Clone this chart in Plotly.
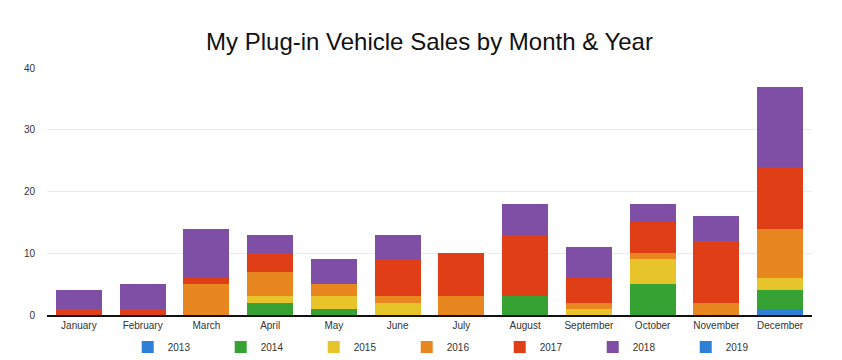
import plotly.graph_objects as go

months = ["January", "February", "March", "April", "May", "June", "July",
          "August", "September", "October", "November", "December"]
years = ["2013", "2014", "2015", "2016", "2017", "2018", "2019"]

sales_2013 = [0, 0, 0, 0, 0, 0, 0, 0, 0, 0, 0, 1]
sales_2014 = [0, 0, 0, 2, 1, 0, 0, 3, 0, 5, 0, 3]
sales_2015 = [0, 0, 0, 1, 2, 2, 0, 0, 1, 4, 0, 2]
sales_2016 = [0, 0, 5, 4, 2, 1, 3, 0, 1, 1, 2, 8]
sales_2017 = [1, 1, 1, 3, 0, 6, 7, 10, 4, 5, 10, 10]
sales_2018 = [3, 4, 8, 3, 4, 4, 0, 5, 5, 3, 4, 13]
sales_2019 = [0, 0, 0, 0, 0, 0, 0, 0, 0, 0, 0, 0]

series = [sales_2013, sales_2014, sales_2015, sales_2016, sales_2017, sales_2018, sales_2019]
colors = ["#2e7fd6", "#36a234", "#e6c42a", "#e8861f", "#e03e16", "#7f4fa6", "#2e7fd6"]

W, H = 834, 352

fig = go.Figure()
for year, vals, col in zip(years, series, colors):
    fig.add_trace(go.Bar(x=months, y=vals, name=year, marker=dict(color=col, line=dict(width=0))))

fig.update_layout(
    barmode="stack",
    bargap=0.28,
    width=W, height=H,
    margin=dict(l=39, r=30, t=60, b=45, autoexpand=False),
    paper_bgcolor="white", plot_bgcolor="white",
    font=dict(family="Liberation Sans, Arial, sans-serif", size=10, color="#333333"),
    title=dict(text="My Plug-in Vehicle Sales by Month & Year", x=0.5, xref="paper",
               xanchor="center", y=1 - 33.5 / H, yanchor="middle",
               font=dict(size=24, color="#111111")),
    legend=dict(orientation="h", x=0.531, xanchor="center", xref="paper",
                y=13 / H, yref="container", yanchor="middle",
                entrywidth=48, itemwidth=30, font=dict(size=10, color="#333333"),
                traceorder="normal"),
    showlegend=True,
)
fig.update_yaxes(range=[0, 40], dtick=10, showgrid=True, gridcolor="#ebebeb", gridwidth=1,
                 zeroline=False, showline=False, ticks="", automargin=False,
                 ticklabelstandoff=11, tickfont=dict(size=10, color="#333333"))
fig.update_xaxes(showline=True, linecolor="#111111", linewidth=1.5, ticks="", automargin=False,
                 tickfont=dict(size=10, color="#333333"))

fig.write_html("out.html")
